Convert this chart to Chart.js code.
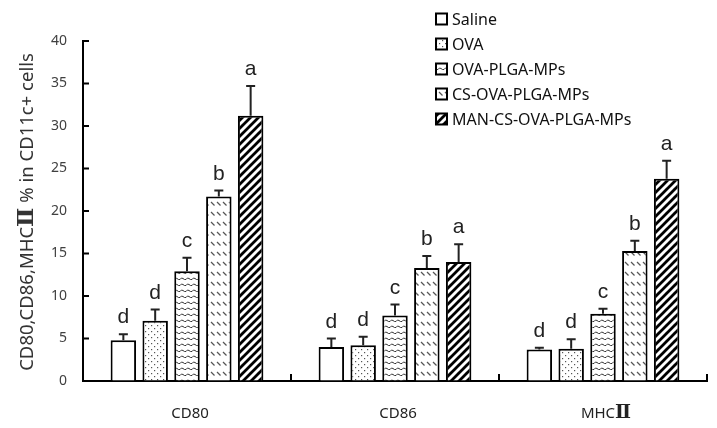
<!DOCTYPE html>
<html>
<head>
<meta charset="utf-8">
<script src="https://cdn.jsdelivr.net/npm/chart.js@4/dist/chart.umd.min.js"></script>
<style>
html,body{margin:0;padding:0;background:#fff;}
#wrap{width:717px;height:428px;}
</style>
</head>
<body>
<div id="wrap"><canvas id="c" width="717" height="428"></canvas></div>
<script>
// ---- data ----
const categories = ["CD80", "CD86", "MHCⅡ"];
const seriesNames = ["Saline", "OVA", "OVA-PLGA-MPs", "CS-OVA-PLGA-MPs", "MAN-CS-OVA-PLGA-MPs"];
const saline   = [4.8, 4.0, 3.7];
const ova      = [7.1, 4.2, 3.8];
const ovaPlga  = [12.9, 7.7, 7.9];
const csOva    = [21.7, 13.3, 15.3];
const manCs    = [31.2, 14.0, 23.8];
const salineErr  = [0.7, 1.0, 0.2];
const ovaErr     = [1.3, 1.0, 1.1];
const ovaPlgaErr = [1.6, 1.3, 0.6];
const csOvaErr   = [0.7, 1.4, 1.2];
const manCsErr   = [3.5, 2.1, 2.1];
const salineSig  = ["d", "d", "d"];
const ovaSig     = ["d", "d", "d"];
const ovaPlgaSig = ["c", "c", "c"];
const csOvaSig   = ["b", "b", "b"];
const manCsSig   = ["a", "a", "a"];
const yTicks = [0, 5, 10, 15, 20, 25, 30, 35, 40];
const yTitle = "CD80,CD86,MHCⅡ % in CD11c+ cells";

// ---- patterns ----
function tile(w, h, draw) {
  const cv = document.createElement('canvas');
  cv.width = w; cv.height = h;
  const g = cv.getContext('2d');
  g.fillStyle = '#fff'; g.fillRect(0, 0, w, h);
  draw(g);
  return document.getElementById('c').getContext('2d').createPattern(cv, 'repeat');
}
const patSaline = '#ffffff';
const patOva = tile(6, 6, g => {
  g.fillStyle = '#555';
  g.fillRect(1, 1, 1.2, 1.2);
  g.fillRect(4, 4, 1.2, 1.2);
});
const patWave = tile(6, 6, g => {
  g.strokeStyle = '#333'; g.lineWidth = 1;
  g.beginPath();
  g.moveTo(0, 3.5);
  g.quadraticCurveTo(1.5, 1, 3, 2.5);
  g.quadraticCurveTo(4.5, 4, 6, 3.5);
  g.stroke();
});
const patDash = tile(6, 10, g => {
  g.strokeStyle = '#555'; g.lineWidth = 1.2;
  g.beginPath(); g.moveTo(1, 2); g.lineTo(4.5, 5.5); g.stroke();
});
const patStripe = tile(8, 8, g => {
  g.strokeStyle = '#000'; g.lineWidth = 2.8;
  g.beginPath();
  g.moveTo(-4, 4); g.lineTo(4, -4);
  g.moveTo(0, 8); g.lineTo(8, 0);
  g.moveTo(4, 12); g.lineTo(12, 4);
  g.stroke();
});

const values = [saline, ova, ovaPlga, csOva, manCs];
const errs = [salineErr, ovaErr, ovaPlgaErr, csOvaErr, manCsErr];
const sigs = [salineSig, ovaSig, ovaPlgaSig, csOvaSig, manCsSig];
const fills = [patSaline, patOva, patWave, patDash, patStripe];

const datasets = seriesNames.map((n, i) => ({
  label: n,
  data: values[i],
  backgroundColor: fills[i],
  borderColor: '#000',
  borderWidth: 2,
  borderSkipped: 'bottom',
  categoryPercentage: 0.765,
  barPercentage: 0.8
}));

// draw text centred at (0,0) of current transform, Roman numeral in a serif font
function drawMixed(ctx, text, baseFont, romanFont, color) {
  const parts = text.split(/(Ⅱ)/).filter(p => p.length);
  const fonts = parts.map(p => p === 'Ⅱ' ? romanFont : baseFont);
  const widths = parts.map((p, k) => { ctx.font = fonts[k]; return ctx.measureText(p).width; });
  const total = widths.reduce((a, b) => a + b, 0);
  ctx.fillStyle = color;
  ctx.textAlign = 'left'; ctx.textBaseline = 'alphabetic';
  let cx = -total / 2;
  parts.forEach((p, k) => {
    ctx.font = fonts[k];
    ctx.fillText(p, cx, 0);
    cx += widths[k];
  });
}

const extras = {
  id: 'extras',
  afterDatasetsDraw(chart) {
    const ctx = chart.ctx;
    const y = chart.scales.y, x = chart.scales.x;
    const ca = chart.chartArea;
    ctx.save();
    // error bars + letters
    chart.data.datasets.forEach((ds, di) => {
      const meta = chart.getDatasetMeta(di);
      meta.data.forEach((bar, j) => {
        const top = y.getPixelForValue(ds.data[j]);
        const et = y.getPixelForValue(ds.data[j] + errs[di][j]);
        ctx.strokeStyle = '#222'; ctx.lineWidth = 2;
        ctx.beginPath();
        ctx.moveTo(bar.x, top); ctx.lineTo(bar.x, et);
        ctx.moveTo(bar.x - 4.5, et); ctx.lineTo(bar.x + 4.5, et);
        ctx.stroke();
        ctx.fillStyle = '#222';
        ctx.font = '21px "Liberation Sans", Arial, sans-serif';
        ctx.textAlign = 'center'; ctx.textBaseline = 'alphabetic';
        ctx.fillText(sigs[di][j], bar.x, et - 11);
      });
    });
    // axis ticks (inward)
    ctx.strokeStyle = '#000'; ctx.lineWidth = 2;
    ctx.beginPath();
    y.ticks.forEach(t => {
      const py = y.getPixelForValue(t.value);
      ctx.moveTo(ca.left, py); ctx.lineTo(ca.left + 6, py);
    });
    const step = x.getPixelForValue(1) - x.getPixelForValue(0);
    for (let i = 0; i < categories.length; i++) {
      const px = x.getPixelForValue(i) + step / 2;
      ctx.moveTo(px, ca.bottom); ctx.lineTo(px, ca.bottom - 7);
    }
    ctx.stroke();
    // x category labels
    categories.forEach((lab, i) => {
      ctx.setTransform(1, 0, 0, 1, x.getPixelForValue(i) + 3, ca.bottom + 37);
      drawMixed(ctx, lab, '15px "Noto Sans", sans-serif', 'bold 19px "DejaVu Serif", serif', '#222');
    });
    // y title
    ctx.setTransform(1, 0, 0, 1, 33, (ca.top + ca.bottom) / 2 + 1);
    ctx.rotate(-Math.PI / 2);
    drawMixed(ctx, yTitle, '18.5px "Noto Sans", sans-serif', 'bold 23px "DejaVu Serif", serif', '#333');
    ctx.setTransform(1, 0, 0, 1, 0, 0);
    // legend
    const lx = 436, ly = 19, gap = 25;
    chart.data.datasets.forEach((ds, di) => {
      const yy = ly + di * gap;
      ctx.fillStyle = ds.backgroundColor;
      ctx.fillRect(lx, yy - 5.5, 11, 11);
      ctx.strokeStyle = '#000'; ctx.lineWidth = 2;
      ctx.strokeRect(lx, yy - 5.5, 11, 11);
      ctx.fillStyle = '#111';
      ctx.font = '16px "Noto Sans", "Open Sans", sans-serif';
      ctx.textAlign = 'left'; ctx.textBaseline = 'middle';
      ctx.fillText(ds.label, lx + 16, yy + 1);
    });
    ctx.restore();
  }
};

new Chart(document.getElementById('c'), {
  type: 'bar',
  data: { labels: categories, datasets },
  options: {
    responsive: false,
    animation: false,
    devicePixelRatio: 1,
    layout: { padding: { top: 41, right: 10, left: 0, bottom: 0 } },
    plugins: { legend: { display: false }, tooltip: { enabled: false } },
    scales: {
      x: {
        grid: { display: true, drawOnChartArea: false, drawTicks: false, color: 'rgba(0,0,0,0)' },
        border: { display: true, color: '#000', width: 2 },
        ticks: { display: false },
        afterFit(s) { s.height = 47; }
      },
      y: {
        min: 0, max: 40,
        afterBuildTicks(s) { s.ticks = yTicks.map(v => ({ value: v })); },
        grid: { display: true, drawOnChartArea: false, drawTicks: false, color: 'rgba(0,0,0,0)' },
        border: { display: true, color: '#000', width: 2 },
        ticks: { color: '#404040', padding: 16, font: { size: 14, family: '"Noto Sans", sans-serif' } },
        afterFit(s) { s.width = 83; }
      }
    }
  },
  plugins: [extras]
});
</script>
</body>
</html>
